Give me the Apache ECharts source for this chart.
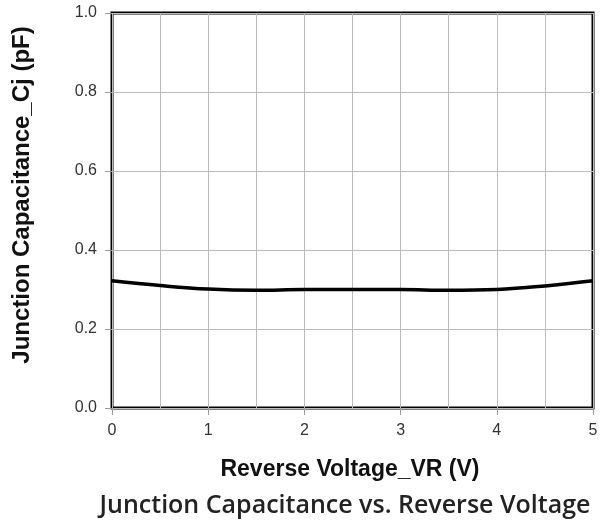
<!DOCTYPE html>
<html>
<head>
<meta charset="utf-8">
<script src="https://cdn.jsdelivr.net/npm/echarts@6/dist/echarts.min.js"></script>
<style>
  html, body { margin: 0; padding: 0; background: #fff; }
  #chart { width: 601px; height: 531px; }
</style>
</head>
<body>
<div id="chart"></div>
<script>
// reverse voltage (V) and junction capacitance (pF)
var voltage = [0, 0.5, 1, 1.5, 2, 2.5, 3, 3.5, 4, 4.5, 5];
var capacitance = [0.322, 0.31, 0.301, 0.298, 0.3, 0.3, 0.3, 0.298, 0.3, 0.309, 0.322];
var titleText = 'Junction Capacitance vs. Reverse Voltage';
var xName = 'Reverse Voltage_VR (V)';
var yName = 'Junction Capacitance_Cj (pF)';

var points = voltage.map(function (v, i) { return [v, capacitance[i]]; });

var myChart = echarts.init(document.getElementById('chart'));
var option = {
    animation: false,
    grid: {
        left: 112, right: 8, top: 13, bottom: 123,
        show: true, borderColor: '#000', borderWidth: 3
    },
    graphic: [
        {
            type: 'text',
            x: 345, y: 518,
            style: {
                text: titleText,
                align: 'center', verticalAlign: 'bottom',
                font: '600 25px "Open Sans"',
                fill: '#222'
            }
        },
        {
            type: 'text',
            x: 350, y: 470,
            style: {
                text: xName,
                align: 'center', verticalAlign: 'middle',
                font: 'bold 23px "Liberation Sans"',
                fill: '#111'
            }
        },
        {
            type: 'text',
            x: 22, y: 195,
            rotation: Math.PI / 2,
            style: {
                text: yName,
                align: 'center', verticalAlign: 'middle',
                font: 'bold 24px "Liberation Sans"',
                fill: '#111'
            }
        }
    ],
    xAxis: {
        type: 'value',
        min: 0, max: 5, interval: 1,
        axisLine: { show: false },
        axisTick: { show: true, length: 7, lineStyle: { color: '#999' } },
        axisLabel: { fontFamily: 'Liberation Sans', fontSize: 16, color: '#333', margin: 15 },
        splitLine: { show: true, lineStyle: { color: '#bbb', width: 1 } },
        minorTick: { show: false, splitNumber: 2 },
        minorSplitLine: { show: true, lineStyle: { color: '#bbb', width: 1 } }
    },
    yAxis: {
        type: 'value',
        min: 0, max: 1, interval: 0.2,
        axisLine: { show: false },
        axisTick: { show: true, length: 7, lineStyle: { color: '#999' } },
        axisLabel: {
            fontFamily: 'Liberation Sans', fontSize: 16, color: '#333', margin: 15,
            formatter: function (v) { return v.toFixed(1); }
        },
        splitLine: { show: true, lineStyle: { color: '#bbb', width: 1 } }
    },
    series: [{
        type: 'line',
        data: points,
        smooth: 0.4,
        showSymbol: false,
        lineStyle: { color: '#000', width: 3.5 }
    }]
};
myChart.setOption(option);
</script>
</body>
</html>
